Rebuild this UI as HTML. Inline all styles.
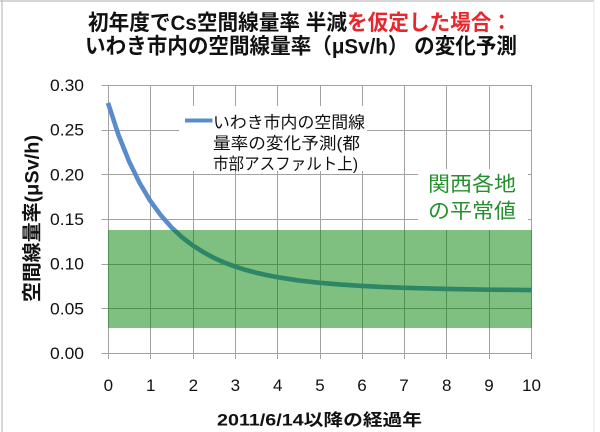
<!DOCTYPE html>
<html><head><meta charset="utf-8">
<style>
html,body{margin:0;padding:0;background:#fff;}
svg{display:block;}
text{font-family:"Liberation Sans","Noto Sans CJK JP",sans-serif;}
</style></head>
<body>
<svg width="600" height="432" viewBox="0 0 600 432" xmlns="http://www.w3.org/2000/svg">
<rect x="0" y="0" width="600" height="432" fill="#fff"/>
<!-- outer border -->
<line x1="0" y1="1" x2="594" y2="1" stroke="#bdbdbd" stroke-width="1.2"/>
<line x1="2" y1="0" x2="2" y2="432" stroke="#bdbdbd" stroke-width="1.2"/>
<line x1="594" y1="0" x2="594" y2="432" stroke="#e6e6e6" stroke-width="1"/>

<!-- title -->
<text x="88" y="30" font-size="21.5" font-weight="bold" fill="#111" textLength="424" lengthAdjust="spacingAndGlyphs">初年度でCs空間線量率 半減<tspan fill="#e8262b">を仮定した場合：</tspan></text>
<text x="85" y="53.5" font-size="21.5" font-weight="bold" fill="#111" textLength="432" lengthAdjust="spacingAndGlyphs">いわき市内の空間線量率（μSv/h） の変化予測</text>

<!-- gridlines -->
<g stroke="#a2a2a2" stroke-width="1" shape-rendering="crispEdges">
<line x1="101.5" y1="353.5" x2="532" y2="353.5"/>
<line x1="101.5" y1="308.5" x2="532" y2="308.5"/>
<line x1="101.5" y1="264.5" x2="532" y2="264.5"/>
<line x1="101.5" y1="219.5" x2="532" y2="219.5"/>
<line x1="101.5" y1="174.5" x2="532" y2="174.5"/>
<line x1="101.5" y1="130.5" x2="532" y2="130.5"/>
<line x1="101.5" y1="85.5" x2="532" y2="85.5"/>
<line x1="108.5" y1="85" x2="108.5" y2="359"/>
<line x1="150.5" y1="85" x2="150.5" y2="359"/>
<line x1="193.5" y1="85" x2="193.5" y2="359"/>
<line x1="235.5" y1="85" x2="235.5" y2="359"/>
<line x1="277.5" y1="85" x2="277.5" y2="359"/>
<line x1="320.5" y1="85" x2="320.5" y2="359"/>
<line x1="362.5" y1="85" x2="362.5" y2="359"/>
<line x1="404.5" y1="85" x2="404.5" y2="359"/>
<line x1="446.5" y1="85" x2="446.5" y2="359"/>
<line x1="489.5" y1="85" x2="489.5" y2="359"/>
<line x1="531.5" y1="85" x2="531.5" y2="359"/>
</g>

<!-- curve -->
<polyline fill="none" stroke="#5a8ccc" stroke-width="4.6" stroke-linejoin="round" stroke-linecap="butt"
points="108,102.9 118.59,135.25 129.18,161.67 139.76,183.25 150.35,200.92 160.94,215.44 171.53,227.39 182.11,237.26 192.7,245.43 203.29,252.1 213.88,257.88 224.47,262.6 235.05,266.58 245.64,269.9 256.23,272.74 266.8,275.1 277.4,277.17 298.58,280.42 319.75,282.8 340.9,284.6 362.1,285.96 383.3,287.0 404.45,287.81 446.8,288.94 489.15,289.64 531.5,290.09"/>

<!-- white boxes for legend and green label -->
<rect x="179" y="106" width="188" height="65" fill="#fff"/>
<rect x="418" y="169" width="110" height="61" fill="#fff"/>

<!-- green band -->
<rect x="108" y="230" width="424" height="98" fill="rgb(0,128,0)" fill-opacity="0.5"/>

<!-- legend -->
<line x1="185" y1="120.5" x2="212.5" y2="120.5" stroke="#5a8ccc" stroke-width="4"/>
<text x="213" y="128" font-size="16.5" fill="#111" textLength="152" lengthAdjust="spacingAndGlyphs">いわき市内の空間線</text>
<text x="213" y="149" font-size="16.5" fill="#111" textLength="147" lengthAdjust="spacingAndGlyphs">量率の変化予測(都</text>
<text x="213" y="169.5" font-size="16.5" fill="#111" textLength="145" lengthAdjust="spacingAndGlyphs">市部アスファルト上)</text>

<!-- green label -->
<text x="428" y="191" font-size="20.5" fill="#25902d" textLength="88" lengthAdjust="spacingAndGlyphs">関西各地</text>
<text x="428" y="218" font-size="20.5" fill="#25902d" textLength="88" lengthAdjust="spacingAndGlyphs">の平常値</text>

<!-- y tick labels -->
<g font-size="17" fill="#111" text-anchor="end">
<text x="84" y="359" textLength="34" lengthAdjust="spacingAndGlyphs">0.00</text>
<text x="84" y="314.3" textLength="34" lengthAdjust="spacingAndGlyphs">0.05</text>
<text x="84" y="269.7" textLength="34" lengthAdjust="spacingAndGlyphs">0.10</text>
<text x="84" y="225" textLength="34" lengthAdjust="spacingAndGlyphs">0.15</text>
<text x="84" y="180.3" textLength="34" lengthAdjust="spacingAndGlyphs">0.20</text>
<text x="84" y="135.7" textLength="34" lengthAdjust="spacingAndGlyphs">0.25</text>
<text x="84" y="91" textLength="34" lengthAdjust="spacingAndGlyphs">0.30</text>
</g>

<!-- x tick labels -->
<g font-size="17" fill="#111" text-anchor="middle">
<text x="108.3" y="391">0</text>
<text x="150.7" y="391">1</text>
<text x="193.3" y="391">2</text>
<text x="235.3" y="391">3</text>
<text x="277.7" y="391">4</text>
<text x="320" y="391">5</text>
<text x="362" y="391">6</text>
<text x="404" y="391">7</text>
<text x="446.7" y="391">8</text>
<text x="489" y="391">9</text>
<text x="531.5" y="391" textLength="19" lengthAdjust="spacingAndGlyphs">10</text>
</g>

<!-- axis titles -->
<text x="217" y="425.5" font-size="16.5" font-weight="bold" fill="#111" textLength="205" lengthAdjust="spacingAndGlyphs">2011/6/14以降の経過年</text>
<text transform="translate(38.5,218.5) rotate(-90)" x="0" y="0" font-size="19.5" font-weight="bold" fill="#111" text-anchor="middle" textLength="167" lengthAdjust="spacingAndGlyphs">空間線量率(μSv/h)</text>
</svg>
</body></html>
